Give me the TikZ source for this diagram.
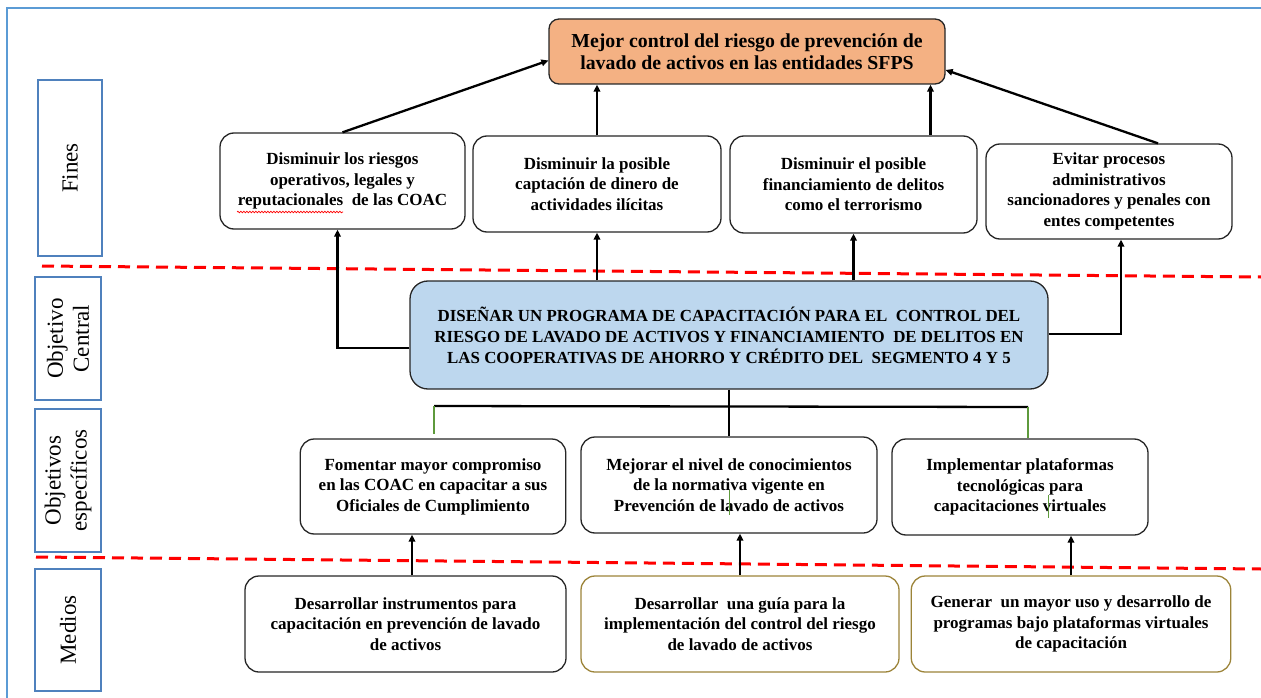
\documentclass[tikz,border=0pt]{standalone}
\usepackage{fontspec}
\setmainfont{Liberation Serif}
\usetikzlibrary{arrows.meta,decorations.pathmorphing}
\definecolor{naranja}{HTML}{F4B183}
\definecolor{celeste}{HTML}{BDD7EE}
\definecolor{azulmarco}{HTML}{5B9BD5}
\definecolor{azulcaja}{HTML}{4F81BD}
\definecolor{oro}{HTML}{9C8439}
\definecolor{verde}{HTML}{5E9A3C}
\tikzstyle{caja} = [draw=black!85, line width=1.3pt, rounded corners=14pt, align=center,
  inner sep=0pt, fill=white, font=\fontsize{17}{20.5}\selectfont\bfseries]
\tikzstyle{etiqueta} = [draw=azulcaja, line width=1.2pt, align=center, inner sep=0pt,
  rotate=90, font=\fontsize{23}{26}\selectfont]
\tikzstyle{flecha} = [line width=2.3pt, -{Triangle[length=7pt,width=6.5pt]}]
\tikzstyle{linea} = [line width=2.3pt]
\tikzstyle{corte} = [red, line width=3pt, dash pattern=on 12pt off 7pt]

\begin{document}
\begin{tikzpicture}[x=1pt,y=-1pt]
  \useasboundingbox (0,0) rectangle (1261,698);
  \draw[azulmarco, line width=2pt] (7,698) -- (7,8) -- (1261,8);

  % etiquetas laterales
  \node[etiqueta, minimum width=176pt, minimum height=64pt] (fines) at (70,168) {Fines};
  \node[etiqueta, minimum width=123pt, minimum height=66pt] (central-lbl) at (68,338.5)
    {Objetivo\\ Central};
  \node[etiqueta, minimum width=143pt, minimum height=66pt] (especificos) at (68,480.5)
    {Objetivos\\ específicos};
  \node[etiqueta, minimum width=122pt, minimum height=66pt] (medios) at (68,630) {Medios};

  \draw[corte] (42,266) -- (1261,277);
  \draw[corte] (36,557) -- (1261,569);

  % fin ultimo
  \node[caja, fill=naranja, rounded corners=10pt, minimum width=396pt, minimum height=65pt,
    font=\fontsize{19.8}{22}\selectfont\bfseries] (meta) at (747,51.5)
    {Mejor control del riesgo de prevención de\\ lavado de activos en las entidades SFPS};

  % fines
  \node[caja, minimum width=245pt, minimum height=96pt] (fin1) at (342.5,181)
    {Disminuir los riesgos\\ operativos, legales y\\ reputacionales\ \ de las COAC};
  \node[caja, minimum width=248pt, minimum height=96pt] (fin2) at (597,184)
    {Disminuir la posible\\ captación de dinero de\\ actividades ilícitas};
  \node[caja, minimum width=247pt, minimum height=97pt] (fin3) at (853.5,184.5)
    {Disminuir el posible\\ financiamiento de delitos\\ como el terrorismo};
  \node[caja, minimum width=246pt, minimum height=95pt] (fin4) at (1109,191.5)
    {Evitar procesos\\ administrativos\\ sancionadores y penales con\\ entes competentes};
  \draw[red, line width=0.7pt, decorate, decoration={snake, amplitude=0.8pt, segment length=3pt}]
    (237,212) -- (343,212);

  % objetivo central
  \node[caja, fill=celeste, rounded corners=18pt, minimum width=638pt, minimum height=108pt,
    font=\fontsize{16.9}{21}\selectfont\bfseries] (central) at (729,335)
    {DISEÑAR UN PROGRAMA DE CAPACITACIÓN PARA EL\ \ CONTROL DEL\\
     RIESGO DE LAVADO DE ACTIVOS Y FINANCIAMIENTO\ \ DE DELITOS EN\\
     LAS COOPERATIVAS DE AHORRO Y CRÉDITO DEL\ \ SEGMENTO 4 Y 5};

  % objetivos especificos
  \node[caja, minimum width=265.5pt, minimum height=95pt] (obj1) at (433,486.5)
    {Fomentar mayor compromiso\\ en las COAC en capacitar a sus\\ Oficiales de Cumplimiento};
  \node[caja, minimum width=296pt, minimum height=96pt] (obj2) at (729,485)
    {Mejorar el nivel de conocimientos\\ de la normativa vigente en\\ Prevención de lavado de activos};
  \node[caja, minimum width=256pt, minimum height=96pt] (obj3) at (1020,487)
    {Implementar plataformas\\ tecnológicas para\\ capacitaciones virtuales};
  \draw[verde, line width=1pt] (729,490) -- (729,515);
  \draw[verde, line width=1pt] (1048,495) -- (1048,518);

  % medios
  \node[caja, minimum width=321pt, minimum height=96pt] (med1) at (405.5,624)
    {Desarrollar instrumentos para\\ capacitación en prevención de lavado\\ de activos};
  \node[caja, draw=oro, minimum width=318pt, minimum height=96pt] (med2) at (740,624)
    {Desarrollar\ \ una guía para la\\ implementación del control del riesgo\\ de lavado de activos};
  \node[caja, draw=oro, minimum width=319.5pt, minimum height=96pt] (med3) at (1071,624)
    {Generar\ \ un mayor uso y desarrollo de\\ programas bajo plataformas virtuales\\ de capacitación};

  % fines -> fin ultimo
  \draw[flecha] (fin1.north) -- ([yshift=-9pt]meta.west);
  \draw[flecha] (fin2.north) -- (fin2.north |- meta.south);
  \draw[flecha] ([xshift=77pt]fin3.north) -- ([xshift=77pt]fin3.north |- meta.south);
  \draw[flecha] ([xshift=49pt]fin4.north) -- ([yshift=-18.5pt]meta.east);

  % objetivo central -> fines
  \draw[flecha] ([yshift=-13pt]central.west) -| ([xshift=-5pt]fin1.south);
  \draw[flecha] (central.north -| fin2.south) -- (fin2.south);
  \draw[flecha] (central.north -| fin3.south) -- (fin3.south);
  \draw[flecha] ([yshift=1pt]central.east) -| ([xshift=12pt]fin4.south);

  % objetivo central -> especificos
  \coordinate (ramaI) at (434,406);
  \coordinate (ramaD) at (1028,407);
  \draw[linea] (central.south) -- (obj2.north);
  \draw[linea] (ramaI) -- (ramaD);
  \draw[verde, line width=1.5pt] (ramaI) -- ++(0,28);
  \draw[verde, line width=1.5pt] (ramaD) -- (ramaD |- obj3.north);

  % medios -> especificos
  \draw[flecha] ([xshift=6.5pt]med1.north) -- ([xshift=6.5pt]med1.north |- obj1.south);
  \draw[flecha] (med2.north) -- (med2.north |- obj2.south);
  \draw[flecha] (med3.north) -- (med3.north |- obj3.south);
\end{tikzpicture}
\end{document}
